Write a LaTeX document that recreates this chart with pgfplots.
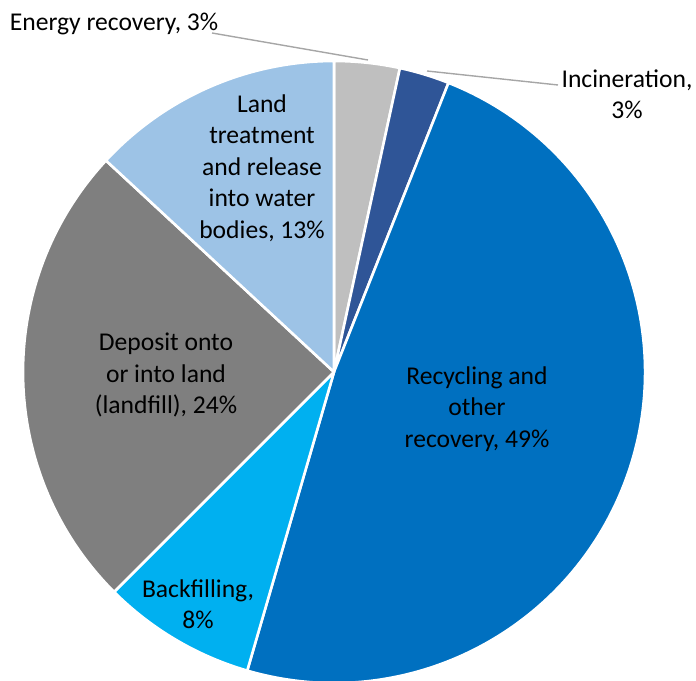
\documentclass[border=0pt]{standalone}
\usepackage{pgfplots}
\pgfplotsset{compat=1.18}
\usepackage{fontspec}
\setmainfont{Carlito}

\definecolor{cEnergy}{HTML}{BFBFBF}
\definecolor{cIncin}{HTML}{2F5597}
\definecolor{cRecyc}{HTML}{0070C0}
\definecolor{cBackf}{HTML}{00B0F0}
\definecolor{cDepos}{HTML}{7F7F7F}
\definecolor{cLand}{HTML}{9DC3E6}
\definecolor{cLeader}{HTML}{A6A6A6}

% shares in percent, clockwise from 12 o'clock
\def\vEnergy{3.4}
\def\vIncin{2.6}
\def\vRecyc{48.5}
\def\vBackf{8.0}
\def\vDepos{24.4}
\def\vLand{13.1}

\tikzset{
  slice/.style={draw=white, line width=1.3pt, line join=round},
  lbl/.style={font=\fontsize{12.8}{15.7}\selectfont, align=center, inner sep=0pt},
}

\begin{document}
\begin{tikzpicture}
  \pgfmathsetmacro\aA{90}
  \pgfmathsetmacro\aB{\aA-3.6*\vEnergy}
  \pgfmathsetmacro\aC{\aB-3.6*\vIncin}
  \pgfmathsetmacro\aD{\aC-3.6*\vRecyc}
  \pgfmathsetmacro\aE{\aD-3.6*\vBackf}
  \pgfmathsetmacro\aF{\aE-3.6*\vDepos}
  \pgfmathsetmacro\aG{\aF-3.6*\vLand}
  \def\R{155.5pt}
  \begin{axis}[
      hide axis,
      x=0.5pt, y=0.5pt,
      xmin=-334, xmax=362,
      ymin=-308, ymax=372,
    ]
    \fill[slice, fill=cEnergy] (axis cs:0,0) -- ++(\aA:\R) arc[start angle=\aA, end angle=\aB, radius=\R] -- cycle;
    \fill[slice, fill=cIncin]  (axis cs:0,0) -- ++(\aB:\R) arc[start angle=\aB, end angle=\aC, radius=\R] -- cycle;
    \fill[slice, fill=cRecyc]  (axis cs:0,0) -- ++(\aC:\R) arc[start angle=\aC, end angle=\aD, radius=\R] -- cycle;
    \fill[slice, fill=cBackf]  (axis cs:0,0) -- ++(\aD:\R) arc[start angle=\aD, end angle=\aE, radius=\R] -- cycle;
    \fill[slice, fill=cDepos]  (axis cs:0,0) -- ++(\aE:\R) arc[start angle=\aE, end angle=\aF, radius=\R] -- cycle;
    \fill[slice, fill=cLand]   (axis cs:0,0) -- ++(\aF:\R) arc[start angle=\aF, end angle=\aG, radius=\R] -- cycle;

    % leader lines
    \draw[cLeader, line width=0.7pt] (axis cs:-122,339) -- (axis cs:34,312);
    \draw[cLeader, line width=0.7pt] (axis cs:93,301) -- (axis cs:224,287);

    % labels
    \node[lbl] at (axis cs:-220,348) {Energy recovery, 3\%};
    \node[lbl] at (axis cs:293,278) {Incineration,\\3\%};
    \node[lbl] at (axis cs:-72,204) {Land\\treatment\\and release\\into water\\bodies, 13\%};
    \node[lbl] at (axis cs:-168,-3) {Deposit onto\\or into land\\(landfill), 24\%};
    \node[lbl] at (axis cs:143,-37) {Recycling and\\other\\recovery, 49\%};
    \node[lbl] at (axis cs:-136,-232) {Backfilling,\\8\%};
  \end{axis}
  \pgfresetboundingbox
  \path (0,0) rectangle (348pt,340pt);
\end{tikzpicture}
\end{document}
